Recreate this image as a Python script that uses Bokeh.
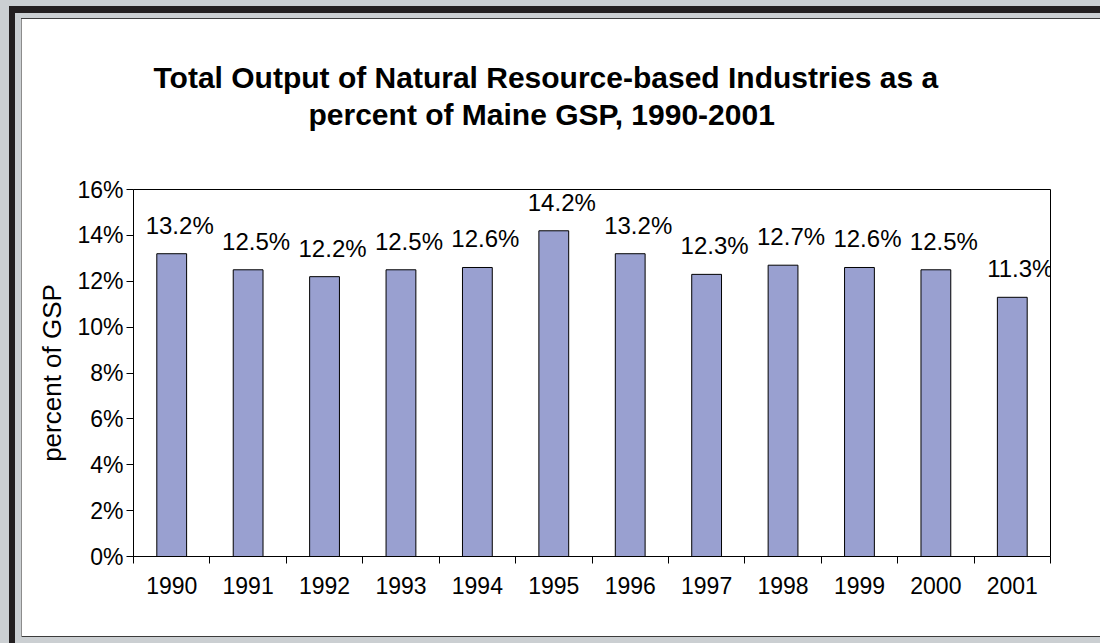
from bokeh.plotting import figure
from bokeh.models import (ColumnDataSource, Range1d, LinearAxis, FixedTicker,
                          PrintfTickFormatter, CustomJSTickFormatter, LabelSet, Title)
from bokeh.core.properties import value
from bokeh.embed import file_html
from bokeh.resources import INLINE

# ---- data -------------------------------------------------------------
years = ["1990", "1991", "1992", "1993", "1994", "1995",
         "1996", "1997", "1998", "1999", "2000", "2001"]
shares = [13.2, 12.5, 12.2, 12.5, 12.6, 14.2, 13.2, 12.3, 12.7, 12.6, 12.5, 11.3]
y_ticks = [0, 2, 4, 6, 8, 10, 12, 14, 16]
title_lines = ["Total Output of Natural Resource-based Industries as a",
               "percent of Maine GSP, 1990-2001"]
y_label = "percent of GSP"

FONT = "Liberation Sans"
W, H = 1100, 643

# category slots: slot i spans [i, i+1], its centre is i + 0.5
n = len(years)
centres = [i + 0.5 for i in range(n)]
edges = list(range(n + 1))

src = ColumnDataSource(dict(xc=centres, year=years, share=shares,
                            label=[f"{v:.1f}%" for v in shares]))

# window-frame decoration drawn behind the (transparent) plot border
layers = [
    ("#ffffff", "22px 19px", "calc(100% - 22px) 617px"),
    ("#3c3c3c", "21px 18px", "calc(100% - 21px) 1px"),
    ("#8c8c8c", "21px 18px", "1px 619px"),
    ("#3c3c3c", "21px 636px", "calc(100% - 21px) 1px"),
    ("#cbcfd2", "15px 13px", "calc(100% - 15px) calc(100% - 13px)"),
    ("#231f20", "9px 6px", "calc(100% - 9px) calc(100% - 6px)"),
]
frame_styles = {
    "background-image": ", ".join(f"linear-gradient({c}, {c})" for c, _, _ in layers),
    "background-position": ", ".join(pos for _, pos, _ in layers),
    "background-size": ", ".join(sz for _, _, sz in layers),
    "background-repeat": "no-repeat",
    "background-color": "#cbcfd2",
}

p = figure(width=W, height=H, x_range=Range1d(0, n), y_range=Range1d(0, 16),
           x_axis_location=None, output_backend="svg", toolbar_location=None, title=None,
           min_border_left=133, min_border_right=50, min_border_top=189, min_border_bottom=87,
           background_fill_color="white", border_fill_color=None)
p.styles = frame_styles
p.outline_line_color = "black"
p.outline_line_width = 1
p.grid.visible = False

p.vbar(x="xc", top="share", width=0.39, source=src,
       fill_color="#99a0d0", line_color="black", line_width=1)

# y axis
ya = p.yaxis[0]
ya.ticker = FixedTicker(ticks=y_ticks)
ya.formatter = PrintfTickFormatter(format="%d%%")
ya.major_label_text_font = FONT
ya.major_label_text_font_size = "23px"
ya.major_label_text_color = "black"
ya.major_tick_out = 7
ya.major_tick_in = 0
ya.minor_tick_out = 0
ya.minor_tick_in = 0
ya.axis_line_color = "black"
ya.major_tick_line_color = "black"
ya.major_label_standoff = 3
ya.axis_label = y_label
ya.axis_label_text_font = FONT
ya.axis_label_text_font_size = "26px"
ya.axis_label_text_font_style = "normal"
ya.axis_label_text_color = "black"
ya.axis_label_standoff = 7

# x axis: tick marks at category boundaries (no labels)
edge_axis = LinearAxis(ticker=FixedTicker(ticks=edges),
                       formatter=CustomJSTickFormatter(code="return ''"),
                       major_label_text_font_size="0px", major_label_standoff=0,
                       major_tick_out=7, major_tick_in=0, minor_tick_out=0, minor_tick_in=0,
                       axis_line_color="black", major_tick_line_color="black")
p.add_layout(edge_axis, "below")

# x axis: year labels at category centres (no tick marks)
label_axis = LinearAxis(ticker=FixedTicker(ticks=centres),
                        major_label_overrides={c: y for c, y in zip(centres, years)},
                        major_tick_out=0, major_tick_in=0, minor_tick_out=0, minor_tick_in=0,
                        axis_line_color=None, major_tick_line_color=None,
                        major_label_standoff=13,
                        major_label_text_font=FONT, major_label_text_font_size="23px",
                        major_label_text_color="black")
p.add_layout(label_axis, "below")

# data labels
p.add_layout(LabelSet(x="xc", y="share", text="label", source=src,
                      x_offset=8, y_offset=20, text_align="center",
                      text_baseline="alphabetic", text_font=value(FONT),
                      text_font_size=value("24px"), text_color="black"))

# two-line title; an empty spacer title keeps it clear of the frame
p.add_layout(Title(text=" ", standoff=23, text_font=FONT, text_font_size="30px",
                   text_color="white"), "above")
p.add_layout(Title(text=title_lines[1], align="left", offset=175, standoff=2,
                   text_font=FONT, text_font_size="30px", text_font_style="bold",
                   text_color="black"), "above")
p.add_layout(Title(text=title_lines[0], align="left", offset=20, standoff=2,
                   text_font=FONT, text_font_size="30px", text_font_style="bold",
                   text_color="black"), "above")

open("out.html", "w").write(file_html(p, INLINE))
